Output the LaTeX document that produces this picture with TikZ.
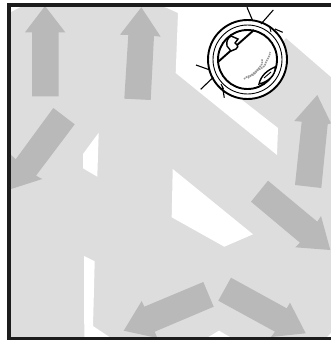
\documentclass[tikz,border=0pt]{standalone}
\definecolor{floorgrey}{HTML}{DCDDDC}
\definecolor{arrowgrey}{HTML}{B8B9B8}
\definecolor{framedark}{HTML}{1C1C1C}
\tikzset{
  floorhole/.style={fill=white,draw=none},
  bigarrow/.style={fill=arrowgrey,draw=none},
  ringthick/.style={draw=black,line width=1.9pt},
  ringthin/.style={draw=black,line width=0.9pt},
  ray/.style={draw=black,line width=1.1pt},
  logo/.style={draw=black!40,line width=1.6pt,dash pattern=on 1.5pt off 0.8pt}
}
\begin{document}
\begin{tikzpicture}[x=1pt,y=-1pt]
\useasboundingbox (0,0) rectangle (331,340);
\fill[white] (0,0) rectangle (331,340);
\fill[floorgrey] (8,5) rectangle (331,338);
% white floor areas
\fill[floorhole] (8,5) -- (24,5) -- (11,12) -- (8,12) -- cycle;
\fill[floorhole] (158,5) -- (167,8) -- (178,13) -- (175.7,73) -- (277,155) -- (278,128) -- (237,96) -- (286,38) -- (331,77) -- (331,5) -- cycle;
\fill[floorhole] (98.7,132.7) -- (83,154) -- (83,168.3) -- (97.3,176.7) -- cycle;
\fill[floorhole] (172.7,169) -- (253,234.3) -- (224.3,246.7) -- (171.7,217.3) -- cycle;
\fill[floorhole] (84,256) -- (94.7,261.3) -- (93,326) -- (111,338) -- (84.3,338) -- cycle;
\fill[floorhole] (219,330.7) -- (231.7,338) -- (206.7,338) -- cycle;
\fill[floorhole] (331,333) -- (326,338) -- (331,338) -- cycle;
% arrows
\fill[bigarrow] (45,6) -- (65.3,32.3) -- (58.7,32.3) -- (58.7,96.3) -- (32,96.3) -- (32,32.3) -- (25,32.3) -- cycle;
\fill[bigarrow] (141.3,7.3) -- (160.7,36.7) -- (154,36) -- (150.7,100) -- (124.3,98.7) -- (128.3,35) -- (120,34.7) -- cycle;
\fill[bigarrow] (53.3,108) -- (74.7,124.3) -- (36,175.7) -- (42.3,179) -- (8,190) -- (8,152) -- (15.7,159.3) -- cycle;
\fill[bigarrow] (317.3,95) -- (331,123.3) -- (327.7,124.3) -- (321.3,188) -- (295,185) -- (301.7,121.7) -- (294.3,121) -- cycle;
\fill[bigarrow] (268,180.7) -- (317.3,221.7) -- (321,216) -- (330.3,250) -- (295.3,247.3) -- (300,242.7) -- (251,201.7) -- cycle;
\fill[bigarrow] (231,277.7) -- (286.7,308.3) -- (290,302.7) -- (305.7,333.3) -- (271,337) -- (275,331.7) -- (218.3,300.7) -- cycle;
\fill[bigarrow] (203.3,282) -- (213.7,306.7) -- (154.7,331.7) -- (157.3,338) -- (123.7,330.7) -- (141.7,301) -- (144.3,306.7) -- cycle;
% frame
\fill[framedark] (7,3) rectangle (331,7);
\fill[framedark] (7,3) rectangle (10.7,340);
\fill[framedark] (7,337) rectangle (331,340);
% robot
\fill[white] (247.5,59.5) circle (39.5);
\draw[ringthick] (247.5,59.5) circle (39.5);
\draw[ringthin] (247.5,59.5) circle (34.5);
\draw[ringthick] (247.5,59.5) circle (29.5);
\draw[ray] (247,7.3) -- (252.7,20.7);
\draw[ray] (273.3,10) -- (261,24);
\draw[ray] (282.7,32.3) -- (275,29);
\draw[ray] (196,65) -- (210,70);
\draw[ray] (200.7,89.3) -- (213.3,77.3);
\draw[ray] (224.3,97.7) -- (222.3,86);
\draw[ringthin] (269.3,26) -- (271,32);
\draw[ringthin] (221,84) -- (223.5,89);
% chord and brushes
\draw[ringthick] (254,30) -- (218.3,61.7);
\draw[ringthin,line width=1.4pt,fill=white] (227,46) .. controls (226,41) and (228,38) .. (231,36) -- (238,39) -- (235,43) .. controls (239,46) and (238,48) .. (236,49) -- (231,51) -- cycle;
\draw[ringthin,line width=1.4pt,fill=white] (259,84) .. controls (261,75) and (268,70) .. (275,67) .. controls (276,75) and (268,82) .. (259,84) -- cycle;
\draw[ringthin] (264,78) -- (271,72);
% logo squiggle
\draw[logo] (244,79) .. controls (248,74) and (252,78) .. (256,72) .. controls (258,68) and (264,70) .. (266,62) .. controls (268,58) and (270,56) .. (270,52);
\draw[logo] (248,78) .. controls (252,74) and (256,72) .. (259,68) .. controls (261,66) and (263,64) .. (262,59);
\end{tikzpicture}
\end{document}
